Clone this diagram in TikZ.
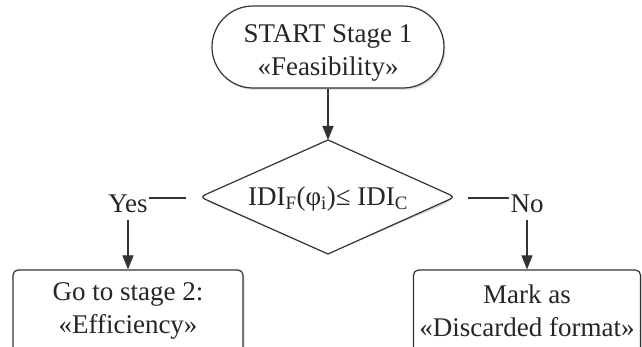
\documentclass[tikz,border=0pt]{standalone}
\usepackage{fontspec}
\setmainfont{Liberation Serif}
\newfontfamily\chartface{Liberation Serif}
\usetikzlibrary{arrows.meta,shadows,calc}

% outline of the decision shape (sharp top/bottom, rounded side tips)
\newcommand\condoutline{%
  (dT) -- (444,192.1) .. controls (dR) .. (444,201.9) -- (dB)
  -- (211,201.9) .. controls (dL) .. (211,192.1) -- cycle}

\begin{document}
\begin{tikzpicture}[x=1pt,y=-1pt,
  every node/.style={font=\chartface\fontsize{27}{33}\selectfont, text=black!85},
  line/.style={draw=black!80, line width=1.2pt},
  arr/.style={line, -{Triangle[length=14pt,width=11pt]}},
  soft/.style={drop shadow={shadow xshift=1.5pt, shadow yshift=-2pt, opacity=0.25}},
  terminal/.style={line, fill=white, soft, rounded corners=41pt,
    minimum width=232pt, minimum height=82pt, align=center, inner sep=0pt},
  process/.style={line, fill=white, soft, rounded corners=5pt,
    minimum height=82pt, align=center, inner sep=0pt},
  label/.style={inner sep=1pt, anchor=base},
]
\useasboundingbox (0,0) rectangle (642,347);
\clip (0,0) rectangle (642,347);

% start terminal
\node[terminal] (start) at (328,47) {\rule{0pt}{0pt}\\[-2.5pt]START Stage 1\\«Feasibility»};

% decision
\coordinate (dT) at (328,140);
\coordinate (dR) at (455,197);
\coordinate (dB) at (328,254);
\coordinate (dL) at (200,197);
\path[fill=gray!30, shift={(1.5,2)}] \condoutline;
\path[line, fill=white] \condoutline;
\node (cond) at (328,199) {IDI\textsubscript{F}(φ\textsubscript{i})≤ IDI\textsubscript{C}};

% outcome boxes (bottom edges run past the frame)
\node[process, minimum width=230pt] (go) at (128,311) {Go to stage 2:\\«Efficiency»};
\node[process, minimum width=227pt] (mark) at (527,311) {Mark as\\«Discarded format»};

% branch labels
\node[label] (yes) at (128,213) {Yes};
\node[label] (no) at (527,213) {No};
\coordinate (yl) at (186,198);
\coordinate (nl) at (468,198);

% connectors
\draw[arr] (start.south) -- (dT);
\draw[line] (yl) -- (yl -| yes.east);
\draw[line] (nl) -- (nl -| no.west);
\draw[arr, shorten <=6pt] (yes.south) -- (go.north);
\draw[arr, shorten <=6pt] (no.south) -- (mark.north);
\end{tikzpicture}
\end{document}
